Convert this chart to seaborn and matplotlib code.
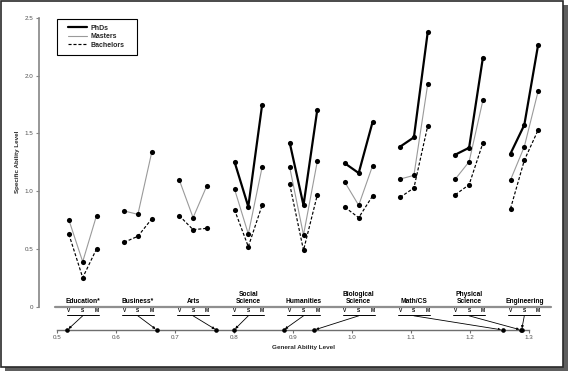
import numpy as np
import pandas as pd
import matplotlib
matplotlib.use("Agg")
import matplotlib.pyplot as plt
import seaborn as sns
from matplotlib.lines import Line2D
from matplotlib.patches import Rectangle

# ---------------- data ----------------
categories = ["Education*", "Business*", "Arts", "Social\nScience", "Humanities",
              "Biological\nScience", "Math/CS", "Physical\nScience", "Engineering"]
subtests = ["V", "S", "M"]
general_ability = [0.517, 0.669, 0.770, 0.800, 0.884, 0.936, 1.256, 1.287, 1.288]

phds = [None, None, None,
        [1.255, 0.866, 1.746],
        [1.420, 0.878, 1.705],
        [1.241, 1.157, 1.596],
        [1.385, 1.466, 2.374],
        [1.316, 1.376, 2.155],
        [1.325, 1.573, 2.265]]
masters = [[0.751, 0.390, 0.788],
           [0.829, 0.800, 1.336],
           [1.097, 0.771, 1.048],
           [1.019, 0.630, 1.207],
           [1.207, 0.621, 1.258],
           [1.077, 0.878, 1.218],
           [1.105, 1.137, 1.925],
           [1.105, 1.255, 1.786],
           [1.097, 1.385, 1.864]]
bachelors = [[0.627, 0.252, 0.500],
             [0.558, 0.610, 0.760],
             [0.788, 0.667, 0.679],
             [0.840, 0.520, 0.878],
             [1.060, 0.489, 0.967],
             [0.861, 0.771, 0.958],
             [0.947, 1.028, 1.564],
             [0.970, 1.056, 1.417],
             [0.849, 1.267, 1.529]]
y_ticks = [0, 0.5, 1.0, 1.5, 2.0, 2.5]
y_tick_labels = ["0", "0.5", "1.0", "1.5", "2.0", "2.5"]
x2_ticks = [0.5, 0.6, 0.7, 0.8, 0.9, 1.0, 1.1, 1.2, 1.3]
x2_tick_labels = ["0.5", "0.6", "0.7", "0.8", "0.9", "1.0", "1.1", "1.2", "1.3"]

# ---------------- layout ----------------
W, H = 569, 373
sub_offset = {"V": -0.25, "S": 0.0, "M": 0.25}

rows = []
for deg, series in [("Bachelors", bachelors), ("Masters", masters), ("PhDs", phds)]:
    for i, vals in enumerate(series):
        if vals is None:
            continue
        for s, v in zip(subtests, vals):
            rows.append({"x": i + sub_offset[s], "y": v, "degree": deg,
                         "category": categories[i]})
df = pd.DataFrame(rows)

sns.set_theme(style="white")
plt.rcParams["font.family"] = ["Liberation Sans", "DejaVu Sans"]

fig = plt.figure(figsize=(W / 100, H / 100), dpi=100)
fig.patch.set_facecolor("white")

# frame with drop shadow
fig.add_artist(Rectangle((5 / W, 1 - 371 / H), (568 - 5) / W, (371 - 5) / H,
                         transform=fig.transFigure, facecolor="#5e5e5e",
                         edgecolor="none", zorder=-10))
fig.add_artist(Rectangle((0.8 / W, 1 - 366.5 / H), 562.5 / W, 365.5 / H,
                         transform=fig.transFigure, facecolor="white",
                         edgecolor="#2a2a2a", lw=1.2, zorder=-9))

ax_left, ax_right = 39, 551
y0_px, y25_px = 306.8, 17.8
ax = fig.add_axes([ax_left / W, 1 - y0_px / H, (ax_right - ax_left) / W,
                   (y0_px - y25_px) / H])
ax.set_facecolor("none")
ax.set_xlim((ax_left - 82.7) / 55.2, (ax_right - 82.7) / 55.2)
ax.set_ylim(0, 2.5)

sns.lineplot(data=df, x="x", y="y", hue="degree", style="degree", size="degree",
             units="category", estimator=None, sort=False, ax=ax, legend=False,
             hue_order=["Bachelors", "Masters", "PhDs"],
             palette={"PhDs": "black", "Masters": "#9a9a9a", "Bachelors": "black"},
             sizes={"PhDs": 1.6, "Masters": 0.8, "Bachelors": 0.85},
             dashes={"PhDs": "", "Masters": "", "Bachelors": (2.6, 1.6)},
             markers={"PhDs": "o", "Masters": "o", "Bachelors": "o"},
             markersize=3.7, markerfacecolor="black", markeredgecolor="black",
             markeredgewidth=0, clip_on=False)

for sp in ["top", "right", "bottom"]:
    ax.spines[sp].set_visible(False)
ax.spines["left"].set_bounds(0, 2.5)
ax.spines["left"].set_color("#858585")
ax.spines["left"].set_linewidth(1.2)
ax.set_xticks([])
ax.set_yticks(y_ticks)
ax.set_yticklabels(y_tick_labels)
ax.tick_params(axis="y", left=True, direction="out", length=2.5, width=0.8,
               color="#858585", labelsize=4.5, labelcolor="#505050", pad=1.5)
ax.set_xlabel("")
ax.set_ylabel("")

# baseline under the category labels
ax.axhline(0, xmin=(55 - ax_left) / (ax_right - ax_left), xmax=1,
           color="#8f8f8f", lw=1.6, clip_on=False)

# second axis: general ability
g_left, g_right, g_y = 57.3, 528.7, 330
ax2 = fig.add_axes([g_left / W, 1 - g_y / H, (g_right - g_left) / W, 0.0001])
ax2.set_facecolor("none")
ax2.set_xlim(0.5, 1.3)
ax2.set_ylim(0, 1)
for sp in ["top", "right", "left"]:
    ax2.spines[sp].set_visible(False)
ax2.spines["bottom"].set_color("#6e6e6e")
ax2.spines["bottom"].set_linewidth(1.0)
ax2.set_yticks([])
ax2.set_xticks(x2_ticks)
ax2.set_xticklabels(x2_tick_labels)
ax2.tick_params(axis="x", bottom=True, direction="out", length=2.0, width=0.8,
                color="#6e6e6e", labelsize=4.5, labelcolor="#505050", pad=1.5)
sns.scatterplot(x=general_ability, y=[0] * len(general_ability), ax=ax2,
                color="black", s=11, linewidth=0, clip_on=False, zorder=5)

# category labels, subtest labels, arrows
for i, cat in enumerate(categories):
    ax.text(i, 0.012, cat, ha="center", va="bottom", fontsize=4.8,
            fontweight="bold", linespacing=1.05, color="black")
    for s in subtests:
        ax.text(i + sub_offset[s], -0.036, s, ha="center", va="center",
                fontsize=3.5, fontweight="bold", color="black")
    ax.plot([i - 0.29, i + 0.29], [-0.071, -0.071], color="black", lw=0.7,
            clip_on=False)
    ax.annotate("", xy=(general_ability[i], 0), xycoords=ax2.transData,
                xytext=(i, -0.078), textcoords=ax.transData,
                arrowprops=dict(arrowstyle="-|>", color="black", lw=0.6,
                                mutation_scale=3.5, shrinkA=0, shrinkB=1.2))

# legend (frame drawn separately to match the wide padding)
frame = Rectangle((57 / W, 1 - 55 / H), (137 - 57) / W, (55 - 18.7) / H,
                  transform=fig.transFigure, facecolor="white",
                  edgecolor="black", lw=0.8, zorder=3, clip_on=False)
ax.add_artist(frame)
handles = [Line2D([], [], color="black", lw=1.6),
           Line2D([], [], color="#9a9a9a", lw=0.8),
           Line2D([], [], color="black", lw=0.85, dashes=(2.6, 1.6))]
leg = ax.legend(handles, ["PhDs", "Masters", "Bachelors"], loc="upper left",
                bbox_to_anchor=(68 / W, 1 - 24.8 / H), bbox_transform=fig.transFigure,
                borderaxespad=0, borderpad=0, frameon=False,
                handlelength=2.75, handletextpad=0.42, labelspacing=0.22,
                prop={"family": "Liberation Sans", "weight": "bold", "size": 5})
leg.set_zorder(6)

fig.text(18 / W, 1 - 162 / H, "Specific Ability Level", rotation=90, ha="center",
         va="center", fontsize=4.5, fontweight="bold")
fig.text(304 / W, 1 - 348 / H, "General Ability Level", ha="center", va="center",
         fontsize=4.6, fontweight="bold")

fig.savefig("out.png", dpi=100)
